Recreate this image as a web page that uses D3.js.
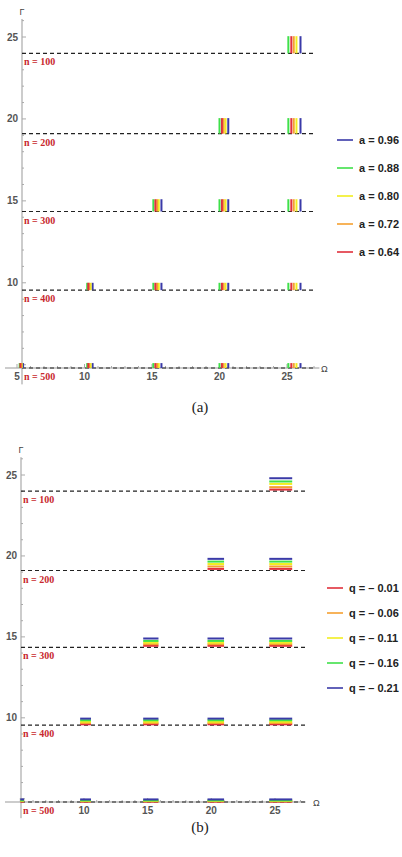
<!DOCTYPE html>
<html>
<head>
<meta charset="utf-8">
<script src="https://cdn.jsdelivr.net/npm/d3@7"></script>
<style>
  body { margin: 0; background: #fff; }
  svg { display: block; }
</style>
</head>
<body>
<svg id="chart" width="402" height="857"></svg>
<script>
// levels (dashed lines) shared by both panels
const nValues = [100, 200, 300, 400, 500];
const gammaLevels = [24.0, 19.1, 14.35, 9.55, 4.8];
const xTicks = [5, 10, 15, 20, 25];
const yTicks = [10, 15, 20, 25];

// panel (a): vertical bars, one per a, per mode
const aValues = ['0.96', '0.88', '0.80', '0.72', '0.64'];
const aColors = ['#3a3aa8', '#3fe04a', '#f2ee20', '#f5a030', '#e0303c'];
const aOmega = [
  [5.45, 10.6, 15.7, 20.65, 26.0],   // 0.96
  [5.2, 10.2, 15.1, 20.0, 25.1],     // 0.88
  [5.35, 10.45, 15.5, 20.45, 25.7],  // 0.80
  [5.3, 10.35, 15.38, 20.3, 25.5],   // 0.72
  [5.25, 10.28, 15.25, 20.18, 25.32] // 0.64
];
const aTop = [25.05, 20.05, 15.1, 10.0, 5.1]; // bar top, per level

// panel (b): horizontal segments, one per q, per mode
const qValues = ['0.01', '0.06', '0.11', '0.16', '0.21'];
const qColors = ['#e0303c', '#f5a030', '#f2ee20', '#3fe04a', '#3a3aa8'];
const modeStart = [5.0, 9.7, 14.65, 19.7, 24.55];
const modeEnd = [5.3, 10.55, 15.85, 21.0, 26.35];
const qGamma = [ // per q, per level
  [24.1, 19.2, 14.45, 9.6, 4.82],
  [24.25, 19.35, 14.55, 9.68, 4.85],
  [24.45, 19.5, 14.65, 9.76, 4.88],
  [24.6, 19.65, 14.75, 9.85, 4.9],
  [24.8, 19.82, 14.9, 9.95, 4.96]
];

const svg = d3.select('#chart');

function drawPanel(p) {
  const g = svg.append('g');
  const x = d3.scaleLinear().domain([5, 25]).range(p.xr);
  const y = d3.scaleLinear().domain([4.8, 25]).range(p.yr);

  // y axis
  g.append('line').attr('x1', p.yAxisX).attr('x2', p.yAxisX)
    .attr('y1', y(26.1)).attr('y2', y(3.8)).attr('stroke', '#999').attr('stroke-width', 1);
  d3.range(5, 27).forEach(v => {
    const major = v % 5 === 0;
    g.append('line').attr('x1', p.yAxisX).attr('x2', p.yAxisX + (major ? 4 : 2))
      .attr('y1', y(v)).attr('y2', y(v)).attr('stroke', '#aaa');
  });
  g.selectAll('.yl').data(yTicks).enter().append('text')
    .attr('x', p.yAxisX - 4).attr('y', d => y(d) + 3.5)
    .attr('text-anchor', 'end').attr('font-family', 'Liberation Sans, Arial, sans-serif')
    .attr('font-size', 10).attr('font-weight', 'bold').attr('fill', '#555').text(d => d);
  g.append('text').attr('x', p.yAxisX).attr('y', y(26.1) - 4).attr('text-anchor', 'middle')
    .attr('font-family', 'Liberation Sans, Arial, sans-serif').attr('font-size', 9)
    .attr('fill', '#444').text('Γ');

  // x axis
  g.append('line').attr('x1', 5).attr('x2', x(27.4))
    .attr('y1', y(4.8)).attr('y2', y(4.8)).attr('stroke', '#999');
  d3.range(5, 28).forEach(v => {
    const major = v % 5 === 0;
    g.append('line').attr('x1', x(v)).attr('x2', x(v))
      .attr('y1', y(4.8)).attr('y2', y(4.8) - (major ? 4 : 2)).attr('stroke', '#aaa');
  });
  g.selectAll('.xl').data(p.showFive ? xTicks : xTicks.slice(1)).enter().append('text')
    .attr('x', d => x(d)).attr('y', y(4.8) + 12)
    .attr('text-anchor', 'middle').attr('font-family', 'Liberation Sans, Arial, sans-serif')
    .attr('font-size', 10).attr('font-weight', 'bold').attr('fill', '#555').text(d => d);
  g.append('text').attr('x', p.omegaX).attr('y', y(4.8) + 4)
    .attr('font-family', 'Liberation Sans, Arial, sans-serif').attr('font-size', 9)
    .attr('fill', '#444').text('Ω');

  // dashed levels + labels
  gammaLevels.forEach((gv, k) => {
    g.append('line').attr('x1', p.yAxisX).attr('x2', p.dashEnd)
      .attr('y1', y(gv)).attr('y2', y(gv))
      .attr('stroke', '#222').attr('stroke-width', 1.2).attr('stroke-dasharray', '4,3');
    g.append('text').attr('x', p.yAxisX + 2).attr('y', y(gv) + 12)
      .attr('font-family', 'Liberation Serif, DejaVu Serif, serif').attr('font-size', 10)
      .attr('font-weight', 'bold').attr('fill', '#c8282e').text('n = ' + nValues[k]);
  });

  p.marks(g, x, y);

  // legend
  p.labels.forEach((lab, i) => {
    const ly = p.legY + i * p.legStep;
    g.append('line').attr('x1', p.legX).attr('x2', p.legX + 16).attr('y1', ly).attr('y2', ly)
      .attr('stroke', p.colors[i]).attr('stroke-width', 1.6);
    g.append('text').attr('x', p.legX + 22).attr('y', ly + 4)
      .attr('font-family', 'Liberation Sans, Arial, sans-serif').attr('font-size', 11)
      .attr('font-weight', 'bold').attr('fill', '#222').text(lab);
  });

  g.append('text').attr('x', 200).attr('y', p.capY).attr('text-anchor', 'middle')
    .attr('font-family', 'Liberation Serif, DejaVu Serif, serif').attr('font-size', 15)
    .attr('fill', '#222').text(p.caption);
}

drawPanel({
  xr: [17, 287], yr: [368, 37], yAxisX: 22, dashEnd: 316, omegaX: 321, showFive: true,
  legX: 337, legY: 140, legStep: 28, colors: aColors,
  labels: aValues.map(v => 'a = ' + v), capY: 412, caption: '(a)',
  marks: (g, x, y) => {
    gammaLevels.forEach((gv, k) => {
      aOmega.forEach((row, i) => {
        row.forEach((om, m) => {
          if (m + k < 4) return;
          g.append('line').attr('x1', x(om)).attr('x2', x(om))
            .attr('y1', y(gv)).attr('y2', y(aTop[k]))
            .attr('stroke', aColors[i]).attr('stroke-width', 2);
        });
      });
    });
  }
});

drawPanel({
  xr: [20.3, 275], yr: [802, 475], yAxisX: 21, dashEnd: 306, omegaX: 313, showFive: false,
  legX: 327, legY: 588, legStep: 25, colors: qColors,
  labels: qValues.map(v => 'q = \u2013 ' + v), capY: 832, caption: '(b)',
  marks: (g, x, y) => {
    gammaLevels.forEach((gv, k) => {
      qGamma.forEach((row, i) => {
        modeStart.forEach((s, m) => {
          if (m + k < 4) return;
          g.append('line').attr('x1', x(s)).attr('x2', x(modeEnd[m]))
            .attr('y1', y(row[k])).attr('y2', y(row[k]))
            .attr('stroke', qColors[i]).attr('stroke-width', 2);
        });
      });
    });
  }
});
</script>
</body>
</html>
